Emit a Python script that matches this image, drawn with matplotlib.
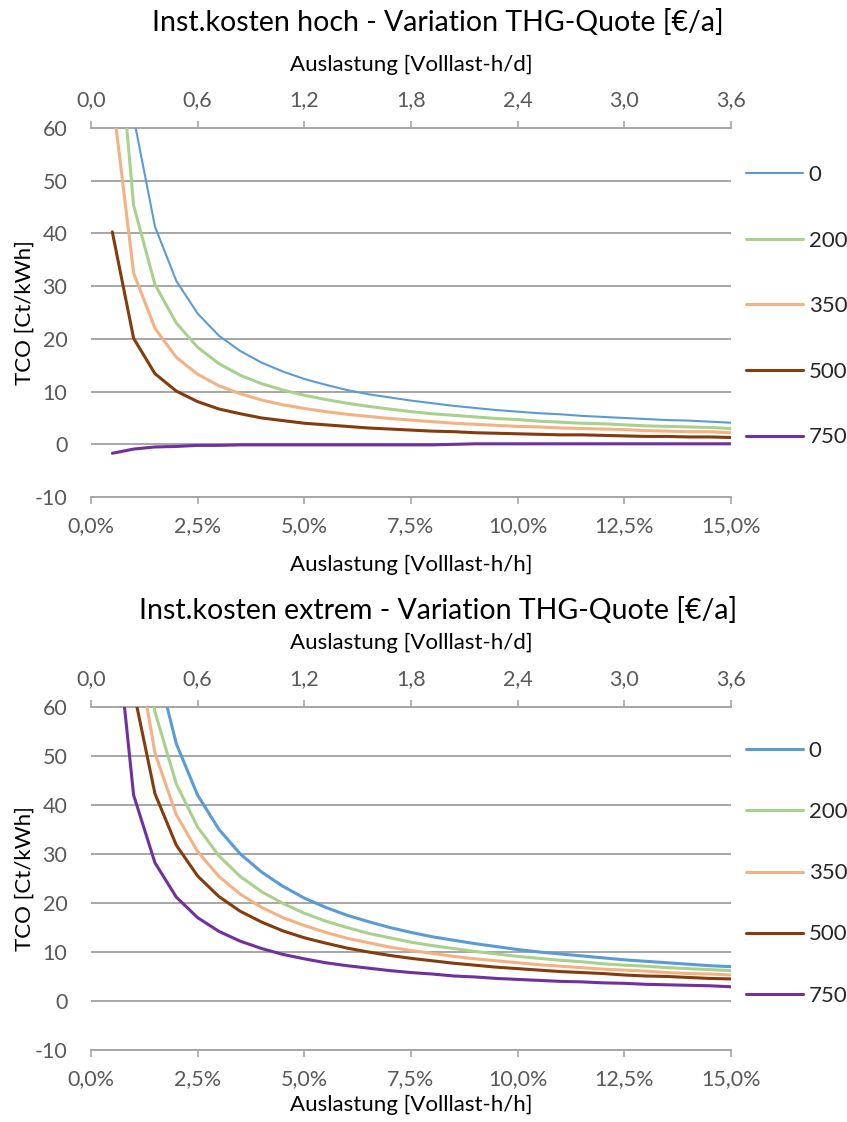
import numpy as np
import matplotlib
matplotlib.use("Agg")
import matplotlib.pyplot as plt
from matplotlib.ticker import FixedLocator, FuncFormatter

plt.rcParams['font.family'] = ['Lato', 'DejaVu Sans']
plt.rcParams['axes.unicode_minus'] = False

# Auslastung in % (Volllast-h/h)
auslastung = [0.5, 1.0, 1.5, 2.0, 2.5, 3.0, 3.5, 4.0, 4.5, 5.0,
              5.5, 6.0, 6.5, 7.0, 7.5, 8.0, 8.5, 9.0, 9.5, 10.0,
              10.5, 11.0, 11.5, 12.0, 12.5, 13.0, 13.5, 14.0, 14.5, 15.0]

quoten = ['0', '200', '350', '500', '750']
farben = ['#5b9bd5', '#a9d18e', '#f4b183', '#843c0c', '#7030a0']

# TCO [Ct/kWh] - Inst.kosten hoch
hoch_0 = [124, 62, 41.3, 31, 24.8, 20.6, 17.7, 15.5, 13.8, 12.4,
          11.3, 10.3, 9.5, 8.9, 8.3, 7.8, 7.3, 6.9, 6.5, 6.2,
          5.9, 5.7, 5.4, 5.2, 5.0, 4.8, 4.6, 4.5, 4.3, 4.1]
hoch_200 = [91, 45.3, 30.3, 23, 18.4, 15.3, 13.1, 11.5, 10.3, 9.3,
            8.5, 7.8, 7.2, 6.7, 6.2, 5.8, 5.5, 5.2, 4.9, 4.7,
            4.4, 4.2, 4.0, 3.9, 3.7, 3.5, 3.4, 3.3, 3.2, 3.0]
hoch_350 = [66, 32.5, 22, 16.5, 13.3, 11.1, 9.6, 8.4, 7.5, 6.8,
            6.2, 5.7, 5.3, 4.9, 4.6, 4.3, 4.0, 3.8, 3.6, 3.4,
            3.3, 3.1, 3.0, 2.9, 2.8, 2.6, 2.5, 2.4, 2.4, 2.2]
hoch_500 = [40.3, 20.1, 13.4, 10.1, 8.1, 6.7, 5.8, 5.0, 4.5, 4.0,
            3.7, 3.4, 3.1, 2.9, 2.7, 2.5, 2.4, 2.2, 2.1, 2.0,
            1.9, 1.8, 1.8, 1.7, 1.6, 1.5, 1.5, 1.4, 1.4, 1.3]
hoch_750 = [-1.7, -0.9, -0.5, -0.4, -0.2, -0.2, -0.1, -0.1, -0.1, -0.1,
            -0.1, -0.1, -0.1, -0.1, -0.1, -0.1, 0.0, 0.1, 0.1, 0.1,
            0.1, 0.1, 0.1, 0.1, 0.1, 0.1, 0.1, 0.1, 0.1, 0.1]

# TCO [Ct/kWh] - Inst.kosten extrem
extrem_0 = [210, 105, 70, 52.5, 42, 35, 30, 26.3, 23.4, 21,
            19.1, 17.5, 16.2, 15, 14, 13.1, 12.4, 11.7, 11.1, 10.5,
            10.0, 9.6, 9.2, 8.8, 8.4, 8.1, 7.8, 7.5, 7.2, 7.0]
extrem_200 = [176, 88.3, 59, 44.3, 35.5, 29.6, 25.4, 22.3, 19.9, 17.9,
              16.3, 15, 13.8, 12.9, 12, 11.3, 10.7, 10.1, 9.6, 9.1,
              8.7, 8.3, 8.0, 7.6, 7.3, 7.1, 6.8, 6.6, 6.4, 6.2]
extrem_350 = [151, 75.8, 50.6, 38, 30.5, 25.4, 21.8, 19.1, 17, 15.4,
              14, 12.8, 11.9, 11, 10.3, 9.7, 9.1, 8.6, 8.2, 7.8,
              7.4, 7.1, 6.8, 6.5, 6.3, 6.1, 5.8, 5.6, 5.5, 5.3]
extrem_500 = [126, 63.3, 42.3, 31.8, 25.5, 21.3, 18.3, 16.1, 14.3, 12.9,
              11.8, 10.8, 10, 9.3, 8.7, 8.2, 7.7, 7.3, 6.9, 6.6,
              6.3, 6.0, 5.8, 5.6, 5.3, 5.1, 5.0, 4.8, 4.6, 4.5]
extrem_750 = [84, 42, 28.2, 21.2, 17, 14.2, 12.2, 10.7, 9.5, 8.6,
              7.8, 7.2, 6.7, 6.2, 5.8, 5.5, 5.1, 4.9, 4.6, 4.4,
              4.2, 4.0, 3.9, 3.7, 3.6, 3.4, 3.3, 3.2, 3.1, 2.9]

GRAU = '#a6a6a6'
TXT = '#595959'


def komma(v, nach=1, suffix=''):
    return f"{v:.{nach}f}".replace('.', ',') + suffix


def diagramm(ax, reihen, breiten, titel, titel_y, ls, leg_y, xpad):
    for werte, farbe, lw, name in zip(reihen, farben, breiten, quoten):
        ax.plot(auslastung, werte, color=farbe, lw=lw, label=name,
                solid_capstyle='round', solid_joinstyle='round')
    ax.set_xlim(0, 15)
    ax.set_ylim(-10, 60)

    # Gitterlinien
    ax.set_yticks(np.arange(-10, 61, 10))
    ax.yaxis.grid(True, color=GRAU, lw=1.4)
    ax.set_axisbelow(True)
    for s in ['left', 'right', 'top']:
        ax.spines[s].set_visible(False)
    ax.spines['bottom'].set_color(GRAU)
    ax.spines['bottom'].set_linewidth(1.4)
    ax.tick_params(axis='y', length=0, labelsize=15.5, labelcolor=TXT, pad=17)
    ax.tick_params(axis='x', length=5, width=1.2, color=GRAU, labelsize=15.5,
                   labelcolor=TXT, pad=9)
    ax.set_xticks(np.arange(0, 15.01, 2.5))
    ax.xaxis.set_major_formatter(FuncFormatter(lambda v, p: komma(v, 1, '%')))
    ax.set_xlabel('Auslastung [Volllast-h/h]', fontsize=16, labelpad=xpad)
    ax.set_ylabel('TCO [Ct/kWh]', fontsize=16, labelpad=0)

    # obere Achse in Volllast-h/d
    sec = ax.secondary_xaxis('top', functions=(lambda p: p * 0.24,
                                               lambda h: h / 0.24))
    sec.xaxis.set_major_locator(FixedLocator(np.arange(0, 3.61, 0.6)))
    sec.xaxis.set_major_formatter(FuncFormatter(lambda v, p: komma(v, 1)))
    sec.spines['top'].set_color(GRAU)
    sec.spines['top'].set_linewidth(1.4)
    sec.tick_params(axis='x', length=5, width=1.2, color=GRAU, labelsize=15.5,
                    labelcolor=TXT, pad=8)
    sec.set_xlabel('Auslastung [Volllast-h/d]', fontsize=16, labelpad=14)

    ax.figure.text(0.517, titel_y, titel, fontsize=20.5, ha='center',
                   va='center')

    leg = ax.legend(loc='center left', bbox_to_anchor=(1.024, leg_y),
                    frameon=False, fontsize=16, handlelength=2.55,
                    handletextpad=0.25, labelspacing=ls, borderpad=0,
                    borderaxespad=0)
    for t in leg.get_texts():
        t.set_color('#262626')


fig = plt.figure(figsize=(8.47, 11.22), dpi=100)
ax1 = fig.add_axes([0.1074, 0.5570, 0.7556, 0.3289])
ax2 = fig.add_axes([0.1074, 0.0642, 0.7556, 0.3057])

diagramm(ax1, [hoch_0, hoch_200, hoch_350, hoch_500, hoch_750],
         [1.5, 2.2, 2.2, 2.2, 2.2],
         'Inst.kosten hoch - Variation THG-Quote [€/a]', 0.980, 2.05, 0.517,
         13.5)
diagramm(ax2, [extrem_0, extrem_200, extrem_350, extrem_500, extrem_750],
         [2.2, 2.2, 2.2, 2.2, 2.2],
         'Inst.kosten extrem - Variation THG-Quote [€/a]', 0.4563, 1.85, 0.515,
         4)

fig.savefig('out.png', dpi=100)
